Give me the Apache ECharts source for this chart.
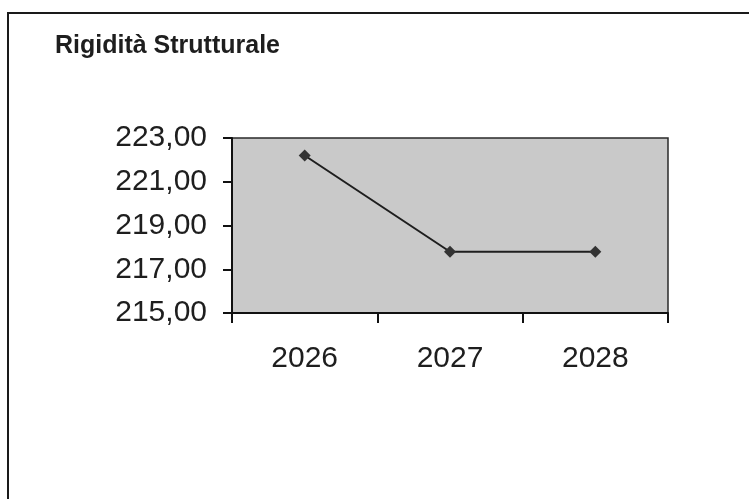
<!DOCTYPE html>
<html>
<head>
<meta charset="utf-8">
<script src="https://cdn.jsdelivr.net/npm/echarts@6/dist/echarts.min.js"></script>
<style>
html,body{margin:0;padding:0;background:#fff;}
#c{width:749px;height:499px;}
</style>
</head>
<body>
<div id="c"></div>
<script>
const titleText = "Rigidità Strutturale";
const categories = ["2026", "2027", "2028"];
const values = [222.2, 217.8, 217.8];
const yMin = 215, yMax = 223, yStep = 2;

const chart = echarts.init(document.getElementById('c'), null, {renderer: 'canvas'});
chart.setOption({
  animation: false,
  backgroundColor: '#ffffff',
  title: {
    text: titleText,
    left: 55, top: 34, padding: 0,
    textStyle: {fontFamily: 'Liberation Sans, Arial, sans-serif', fontWeight: 'bold', fontSize: 25, color: '#1e1e1e'}
  },
  graphic: [{
    type: 'rect', z: 100,
    shape: {x: 8, y: 13, width: 900, height: 700},
    style: {fill: 'none', stroke: '#1a1a1a', lineWidth: 2}
  }],
  grid: {
    left: 232, right: 81, top: 138, bottom: 186,
    show: true, backgroundColor: '#c9c9c9', borderColor: '#2a2a2a', borderWidth: 1.5
  },
  xAxis: {
    type: 'category', data: categories, boundaryGap: true,
    axisLine: {show: true, lineStyle: {color: '#111', width: 2}},
    axisTick: {show: true, length: 10, lineStyle: {color: '#111', width: 2}},
    axisLabel: {margin: 31, fontFamily: 'Liberation Sans, Arial, sans-serif', fontSize: 30, color: '#1e1e1e'},
    splitLine: {show: false}
  },
  yAxis: {
    type: 'value', min: yMin, max: yMax, interval: yStep,
    axisLine: {show: true, lineStyle: {color: '#111', width: 2}},
    axisTick: {show: true, length: 9, lineStyle: {color: '#111', width: 2}},
    axisLabel: {
      margin: 25, fontFamily: 'Liberation Sans, Arial, sans-serif', fontSize: 30, color: '#1e1e1e',
      formatter: v => v.toFixed(2).replace('.', ',')
    },
    splitLine: {show: false}
  },
  series: [{
    type: 'line', data: values,
    symbol: 'diamond', symbolSize: 12,
    itemStyle: {color: '#333'},
    lineStyle: {color: '#1e1e1e', width: 2}
  }]
});
</script>
</body>
</html>
